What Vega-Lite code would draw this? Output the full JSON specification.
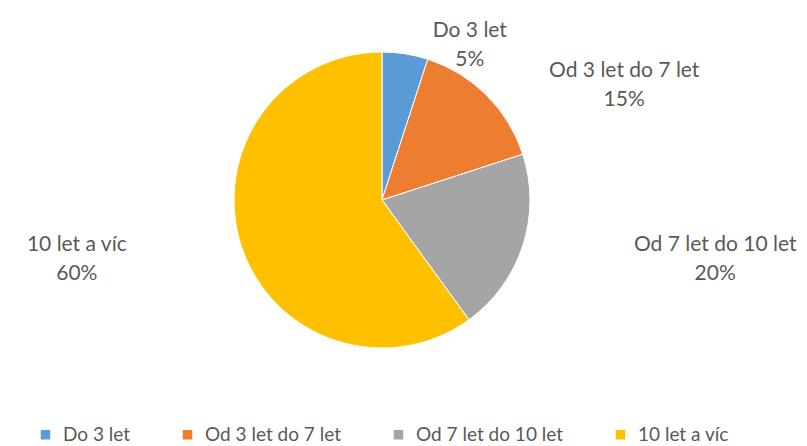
{
  "$schema": "https://vega.github.io/schema/vega-lite/v6.json",
  "width": 764,
  "height": 392,
  "autosize": {"type": "none"},
  "padding": {"top": 4, "left": 0, "right": 43, "bottom": 50},
  "background": "white",
  "config": {"view": {"stroke": null}, "font": "Lato"},
  "data": {
    "values": [
      {"cat": "Do 3 let", "value": 5, "ord": 1, "label": "Do 3 let\n5%"},
      {"cat": "Od 3 let do 7 let", "value": 15, "ord": 2, "label": "Od 3 let do 7 let\n15%"},
      {"cat": "Od 7 let do 10 let", "value": 20, "ord": 3, "label": "Od 7 let do 10 let\n20%"},
      {"cat": "10 let a víc", "value": 60, "ord": 4, "label": "10 let a víc\n60%"}
    ]
  },
  "encoding": {
    "theta": {"field": "value", "type": "quantitative", "stack": true},
    "order": {"field": "ord", "type": "quantitative"}
  },
  "layer": [
    {
      "mark": {"type": "arc", "outerRadius": 148, "stroke": "white", "strokeWidth": 1},
      "encoding": {
        "color": {
          "field": "cat",
          "type": "nominal",
          "scale": {
            "domain": ["Do 3 let", "Od 3 let do 7 let", "Od 7 let do 10 let", "10 let a víc"],
            "range": ["#5B9BD5", "#ED7D31", "#A5A5A5", "#FFC000"]
          },
          "legend": {
            "title": null,
            "orient": "none",
            "legendX": 36,
            "legendY": 421,
            "direction": "horizontal",
            "symbolType": "square",
            "symbolSize": 90,
            "symbolStrokeWidth": 0,
            "labelFontSize": 19,
            "labelLimit": 400,
            "labelColor": "#595959",
            "labelFont": "Lato",
            "labelOffset": 8,
            "columnPadding": 47
          }
        }
      }
    },
    {
      "mark": {"type": "text", "radius": 165, "dx": 62, "dy": -6, "align": "center", "baseline": "middle", "fontSize": 21, "lineBreak": "\n", "lineHeight": 29, "color": "#595959"},
      "encoding": {
        "text": {"field": "label"},
        "opacity": {"condition": {"test": "datum.cat === 'Do 3 let'", "value": 1}, "value": 0}
      }
    },
    {
      "mark": {"type": "text", "radius": 170, "dx": 122, "dy": -9, "align": "center", "baseline": "middle", "fontSize": 21, "lineBreak": "\n", "lineHeight": 29, "color": "#595959"},
      "encoding": {
        "text": {"field": "label"},
        "opacity": {"condition": {"test": "datum.cat === 'Od 3 let do 7 let'", "value": 1}, "value": 0}
      }
    },
    {
      "mark": {"type": "text", "radius": 180, "dx": 162, "dy": -11, "align": "center", "baseline": "middle", "fontSize": 21, "lineBreak": "\n", "lineHeight": 29, "color": "#595959"},
      "encoding": {
        "text": {"field": "label"},
        "opacity": {"condition": {"test": "datum.cat === 'Od 7 let do 10 let'", "value": 1}, "value": 0}
      }
    },
    {
      "mark": {"type": "text", "radius": 180, "dx": -134, "dy": -11, "align": "center", "baseline": "middle", "fontSize": 21, "lineBreak": "\n", "lineHeight": 29, "color": "#595959"},
      "encoding": {
        "text": {"field": "label"},
        "opacity": {"condition": {"test": "datum.cat === '10 let a víc'", "value": 1}, "value": 0}
      }
    }
  ]
}
